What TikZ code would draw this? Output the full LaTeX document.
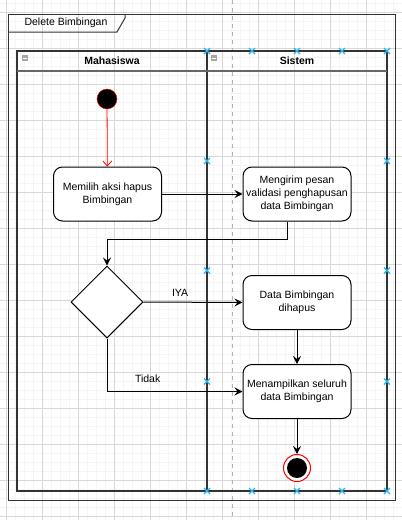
\documentclass[tikz,border=0pt]{standalone}
\usepackage{fontspec}
\setmainfont{Liberation Sans}
\usepackage{tikz}
\usetikzlibrary{shapes.geometric, arrows.meta}

\definecolor{gridminor}{HTML}{F5F5F5}
\definecolor{gridmajor}{HTML}{D8D8D8}
\definecolor{pilih}{HTML}{29B6F2}
\definecolor{garis}{HTML}{333333}

\tikzset{
    aksi/.style={draw, rounded corners=9pt, minimum width=108pt, minimum height=54pt,
        inner sep=0pt, align=center, fill=white, line width=1pt,
        font=\fontsize{10.5}{13}\selectfont},
    keputusan/.style={draw, diamond, minimum width=72pt, minimum height=72pt,
        inner sep=0pt, fill=white, line width=1pt},
    panah/.style={line width=1pt, -{Stealth[length=8pt,width=8pt,inset=3pt]}},
    label/.style={font=\fontsize{10.5}{13}\selectfont},
    judul/.style={font=\bfseries\fontsize{10.5}{13}\selectfont}
}

\begin{document}
\begin{tikzpicture}[x=1pt, y=-1pt]
    \useasboundingbox[fill=white] (0,0) rectangle (402,520);

    % grid
    \foreach \i in {0,...,44} {
        \draw[gridminor, line width=0.75pt] (6.3+9*\i, 0) -- (6.3+9*\i, 520);
    }
    \foreach \i in {0,...,57} {
        \draw[gridminor, line width=0.75pt] (0, 3.3+9*\i) -- (402, 3.3+9*\i);
    }
    \foreach \i in {0,...,11} {
        \draw[gridmajor, line width=0.75pt] (6.3+36*\i, 0) -- (6.3+36*\i, 520);
    }
    \foreach \i in {0,...,14} {
        \draw[gridmajor, line width=0.75pt] (0, 12.3+36*\i) -- (402, 12.3+36*\i);
    }
    \draw[gray!60, line width=1pt, dash pattern=on 4pt off 4pt] (232, 0) -- (232, 520);

    % frame
    \draw[garis, line width=1pt] (8, 14.5) rectangle (395, 500);
    \draw[garis, line width=1pt] (8, 32) -- (117, 32) -- (125, 18) -- (125, 14.5);
    \node[label] (frame) at (66, 22.5) {Delete Bimbingan};

    % swimlanes
    \draw[garis, line width=1.2pt] (17, 51) rectangle (387, 491);
    \draw[garis, line width=1.2pt] (207, 51) -- (207, 491);
    \draw[gray!80!black, line width=1.6pt] (17, 71) -- (387, 71);
    \fill[gray!70] (22, 55) rectangle (28, 61);
    \draw[white, line width=0.8pt] (23, 58) -- (27, 58);
    \fill[gray!70] (211, 55) rectangle (217, 61);
    \draw[white, line width=0.8pt] (212, 58) -- (216, 58);
    \node[judul] (lane1) at (112, 60.5) {Mahasiswa};
    \node[judul] (lane2) at (297, 60.5) {Sistem};

    % nodes
    \node[circle, fill=black, draw=red, minimum size=20pt, inner sep=0pt] (mulai) at (107, 99) {};
    \node[aksi] (pilih) at (107.5, 194) {Memilih aksi hapus\\Bimbingan};
    \node[aksi] (kirim) at (297, 194) {Mengirim pesan\\validasi penghapusan\\data Bimbingan};
    \node[keputusan] (cek) at (107, 302) {};
    \node[aksi] (hapus) at (297, 302.5) {Data Bimbingan\\dihapus};
    \node[aksi] (tampil) at (297, 391.5) {Menampilkan seluruh\\data Bimbingan};
    \node[circle, draw=red, fill=white, minimum size=27pt, inner sep=0pt, line width=1pt] (akhir) at (297, 468) {};
    \node[circle, fill=black, minimum size=20pt, inner sep=0pt] (akhirdalam) at (akhir) {};

    % connectors
    \draw[red, line width=0.8pt, -{Straight Barb[length=5pt,width=9pt]}] (mulai) -- (pilih);
    \draw[panah] (pilih) -- (kirim);
    \draw[panah] ([xshift=-10pt]kirim.south) -- ++(0, 18) -| (cek.north);
    \draw[panah] (cek.east) -- node[label, pos=0.37, above=2pt] {IYA} (hapus.west);
    \draw[panah] (hapus) -- (tampil);
    \draw[panah] (cek.south) |- node[label, pos=0.65, above=5pt] {Tidak} (tampil.west);
    \draw[panah] (tampil) -- (akhir);

    % selection crosses
    \foreach \px/\py in {207/51, 252/51, 297/51, 342/51, 387/51,
                         207/161, 387/161, 207/270.5, 387/270.5, 207/381.5, 387/381.5,
                         207/491, 252/491, 297/491, 342/491, 387/491} {
        \draw[pilih, line width=1.1pt] (\px-3, \py-3) -- (\px+3, \py+3)
            (\px-3, \py+3) -- (\px+3, \py-3);
    }
\end{tikzpicture}
\end{document}
